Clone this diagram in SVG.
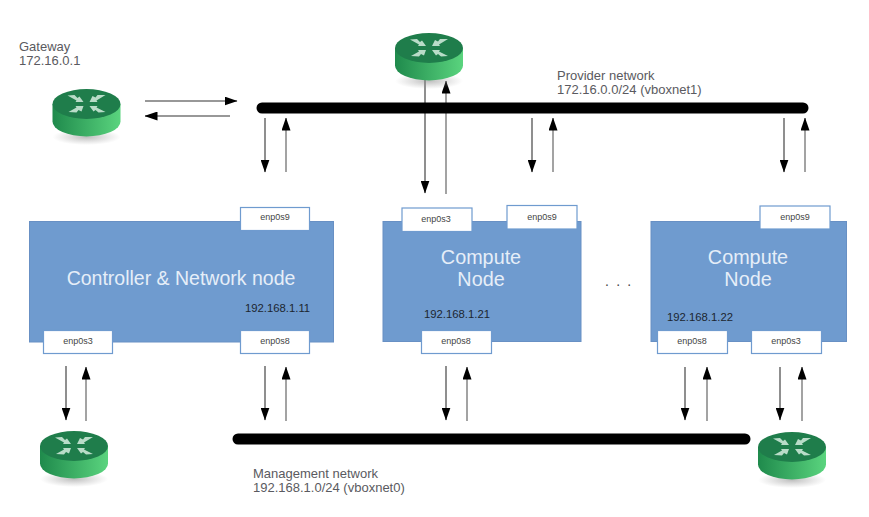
<svg xmlns="http://www.w3.org/2000/svg" width="869" height="517" viewBox="0 0 869 517">
<style>
text{font-family:"Liberation Sans",Arial,sans-serif}
.lbl{font-size:13px;fill:#5a5a60}
.ip{font-size:11.300px;fill:#1c2630}
.big{fill:#e6eef8;text-anchor:middle}
.if{font-size:9px;fill:#444;text-anchor:middle}
.node{fill:#6f9bcf;stroke:#6890c4;stroke-width:1}
.ifr{fill:#fff;stroke:#6f9bcf;stroke-width:1.2}
.bus{stroke:#000;stroke-width:11;stroke-linecap:round;fill:none}
.ar{stroke:#333;stroke-width:1.1;fill:none;marker-end:url(#ah)}
.up{stroke:#666;stroke-width:1.2}
</style>
<defs>
<marker id="ah" markerUnits="userSpaceOnUse" markerWidth="13" markerHeight="9" refX="12.5" refY="4.5" orient="auto"><path d="M0 0L13 4.5L0 9z" fill="#000"/></marker>
<linearGradient id="side" x1="0" x2="1" y1="0" y2="0"><stop offset="0" stop-color="#1f8a4c"/><stop offset="1" stop-color="#5ad47e"/></linearGradient>
<radialGradient id="sh"><stop offset="0" stop-color="#888" stop-opacity=".55"/><stop offset="1" stop-color="#999" stop-opacity="0"/></radialGradient>
<g id="router">
<ellipse cx="0" cy="33" rx="34" ry="8" fill="url(#sh)"/>
<path d="M-34 0V17.5A34 15 0 0 0 34 17.5V0z" fill="url(#side)"/>
<ellipse cx="0" cy="0" rx="34" ry="15" fill="#1f7d4b"/>
<g fill="#b9dcc8">
<path d="M-19-8.500L-12-9L-9-6L-7-7.500L-3-2L-11-2L-10-3.500z"/>
<path d="M19-9L11-9L9-6.500L6-8L3-2L11-2L10-3.500z"/>
<path d="M-18 8L-10 8.500L-8 6L-5 7.500L-3 2L-11 2L-10 3.500z"/>
<path d="M19 8L12 8.500L9 6L7 7.500L3 2L11 2L10 3.500z"/>
</g>
</g>
</defs>
<g id="connectors">
<path class="ar" d="M145 101H237"/>
<path class="ar" d="M230 116H145"/>
<path class="ar" d="M265 118V172"/>
<path class="ar up" d="M286 172V118"/>
<path class="ar" d="M425 80V193"/>
<path class="ar up" d="M446 194V81"/>
<path class="ar" d="M532 118V172"/>
<path class="ar up" d="M553 172V118"/>
<path class="ar" d="M784 118V172"/>
<path class="ar up" d="M805 172V118"/>
<path class="ar" d="M66 366V420"/>
<path class="ar up" d="M86 421V367"/>
<path class="ar" d="M265 366V420"/>
<path class="ar up" d="M286 421V367"/>
<path class="ar" d="M446 366V420"/>
<path class="ar up" d="M467 421V367"/>
<path class="ar" d="M685 367V420"/>
<path class="ar up" d="M707 421V367"/>
<path class="ar" d="M780 367V420"/>
<path class="ar up" d="M802 421V367"/>
</g>
<g id="provider-network">
<path class="bus" d="M262 108H803"/>
<text class="lbl" x="557" y="80">Provider network</text>
<text class="lbl" x="557" y="94">172.16.0.0/24 (vboxnet1)</text>
</g>
<g id="management-network">
<path class="bus" d="M238 439H745"/>
<text class="lbl" x="253" y="478">Management network</text>
<text class="lbl" x="253" y="492">192.168.1.0/24 (vboxnet0)</text>
</g>
<g id="gateway">
<use href="#router" x="86.500" y="104"/>
<text class="lbl" x="19" y="51">Gateway</text>
<text class="lbl" x="19" y="65">172.16.0.1</text>
</g>
<g id="router-top"><use href="#router" x="429" y="48"/></g>
<g id="router-bottom-left"><use href="#router" x="74" y="446"/></g>
<g id="router-bottom-right"><use href="#router" x="792" y="447"/></g>
<g id="controller">
<rect class="node" x="29.500" y="221.500" width="304" height="120.500"/>
<text class="big" x="181" y="285" font-size="19.500">Controller &amp; Network node</text>
<text class="ip" x="245" y="312">192.168.1.11</text>
<rect class="ifr" x="240.500" y="207.500" width="69" height="23"/>
<text class="if" x="275" y="220">enp0s9</text>
<rect class="ifr" x="43.500" y="330.500" width="69" height="23"/>
<text class="if" x="78" y="344">enp0s3</text>
<rect class="ifr" x="240.500" y="330.500" width="69" height="23"/>
<text class="if" x="275" y="344">enp0s8</text>
</g>
<g id="compute1">
<rect class="node" x="383" y="221.500" width="198" height="120"/>
<text class="big" x="481" y="264" font-size="19.800">Compute</text>
<text class="big" x="481" y="286" font-size="19.800">Node</text>
<text class="ip" x="424" y="318">192.168.1.21</text>
<rect class="ifr" x="402" y="208" width="70" height="23.500"/>
<text class="if" x="436" y="222">enp0s3</text>
<rect class="ifr" x="507" y="205.500" width="70" height="23.500"/>
<text class="if" x="542" y="220">enp0s9</text>
<rect class="ifr" x="421.500" y="330.500" width="70" height="23"/>
<text class="if" x="456" y="344">enp0s8</text>
</g>
<text x="605" y="286" font-size="14" letter-spacing="1.700" fill="#444" font-family="Liberation Sans">. . .</text>
<g id="compute2">
<rect class="node" x="651" y="221.500" width="195.500" height="120"/>
<text class="big" x="748" y="264" font-size="19.800">Compute</text>
<text class="big" x="748" y="286" font-size="19.800">Node</text>
<text class="ip" x="667" y="321">192.168.1.22</text>
<rect class="ifr" x="760" y="206" width="70" height="23"/>
<text class="if" x="795" y="220">enp0s9</text>
<rect class="ifr" x="657.500" y="330.500" width="70" height="23"/>
<text class="if" x="692" y="344">enp0s8</text>
<rect class="ifr" x="751.500" y="330.500" width="70" height="23"/>
<text class="if" x="786" y="344">enp0s3</text>
</g>
</svg>
